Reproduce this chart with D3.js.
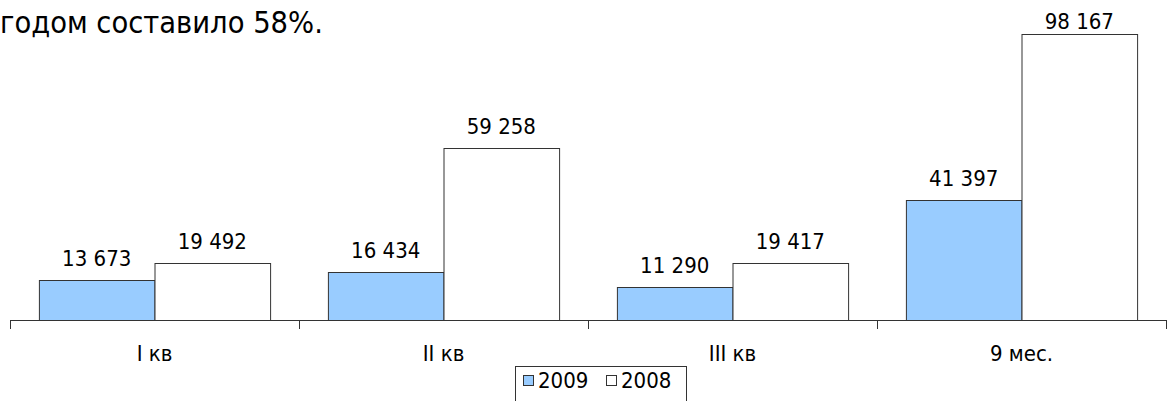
<!DOCTYPE html>
<html>
<head>
<meta charset="utf-8">
<script src="https://cdn.jsdelivr.net/npm/d3@7"></script>
<style>
    body { margin: 0; background: #fff; }
    svg { display: block; font-family: "DejaVu Sans Condensed", "DejaVu Sans", sans-serif; }
</style>
</head>
<body>
<div id="container"></div>
<script>
const [svgW, svgH] = [1170, 401];
const [axisLeft, axisRight, axisY, yTop] = [10, 1166, 320, 29];

const categories = ['I кв', 'II кв', 'III кв', '9 мес.'];
const seriesNames = ['2009', '2008'];
const values2009 = [13673, 16434, 11290, 41397];
const values2008 = [19492, 59258, 19417, 98167];
const colors = ['#99ccff', '#ffffff'];

// "13 673" style labels
function fmt(v) {
    return d3.format(',')(v).replace(/,/g, ' ');
}

function main() {
    var svg = d3.select('#container').append('svg')
        .attr('width', svgW).attr('height', svgH);

    // tail of the paragraph above the chart
    svg.append('text').attr('x', 0).attr('y', 33)
        .attr('font-size', 30.5).attr('fill', '#000')
        .text('годом составило 58%.');

    var x = d3.scaleBand().domain(categories).range([axisLeft, axisRight])
        .paddingInner(0.2).paddingOuter(0.1);
    var x1 = d3.scaleBand().domain(seriesNames).range([0, x.bandwidth()]);
    var y = d3.scaleLinear().domain([0, 100000]).range([axisY, yTop]);

    var series = [values2009, values2008];
    var rows = [];
    series.forEach(function (vals, s) {
        vals.forEach(function (v, i) {
            rows.push({cat: categories[i], name: seriesNames[s], s: s, v: v});
        });
    });

    svg.append('g').selectAll('rect').data(rows).enter().append('rect')
        .attr('x', d => x(d.cat) + x1(d.name) + 0.5)
        .attr('y', d => Math.round(y(d.v)) + 0.5)
        .attr('width', x1.bandwidth())
        .attr('height', d => axisY - Math.round(y(d.v)))
        .attr('fill', d => colors[d.s])
        .attr('stroke', '#333').attr('stroke-width', 1);

    svg.append('g').selectAll('text').data(rows).enter().append('text')
        .attr('x', d => x(d.cat) + x1(d.name) + x1.bandwidth() / 2)
        .attr('y', d => Math.max(y(d.v) - 14, 29))
        .attr('text-anchor', 'middle').attr('font-size', 22)
        .text(d => fmt(d.v));

    // category axis: ticks between groups
    var step = (axisRight - axisLeft) / categories.length;
    var axis = d3.axisBottom(x).tickSize(0).tickPadding(25);
    var g = svg.append('g').attr('transform', 'translate(0,' + axisY + ')').call(axis);
    g.select('.domain').attr('stroke', '#333').attr('d', 'M' + axisLeft + ',0.5H' + axisRight);
    g.selectAll('.tick text').attr('font-size', 22).attr('fill', '#000')
        .attr('font-family', '"DejaVu Sans Condensed", sans-serif');
    g.append('g').selectAll('line').data(d3.range(categories.length + 1)).enter().append('line')
        .attr('x1', i => Math.round(axisLeft + i * step) + 0.5)
        .attr('x2', i => Math.round(axisLeft + i * step) + 0.5)
        .attr('y1', 0).attr('y2', 9).attr('stroke', '#333');

    // legend
    var lg = svg.append('g').attr('transform', 'translate(515,366)');
    lg.append('rect').attr('x', 0.5).attr('y', 0.5).attr('width', 171).attr('height', 40)
        .attr('fill', '#fff').attr('stroke', '#333');
    var item = lg.selectAll('g.item').data(seriesNames).enter().append('g')
        .attr('transform', (d, i) => 'translate(' + (8 + i * 83) + ',0)');
    item.append('rect').attr('x', 0.5).attr('y', 9.5).attr('width', 10).attr('height', 10)
        .attr('fill', (d, i) => colors[i]).attr('stroke', '#333');
    item.append('text').attr('x', 15).attr('y', 22).attr('font-size', 22).text(d => d);
}

main();
</script>
</body>
</html>
